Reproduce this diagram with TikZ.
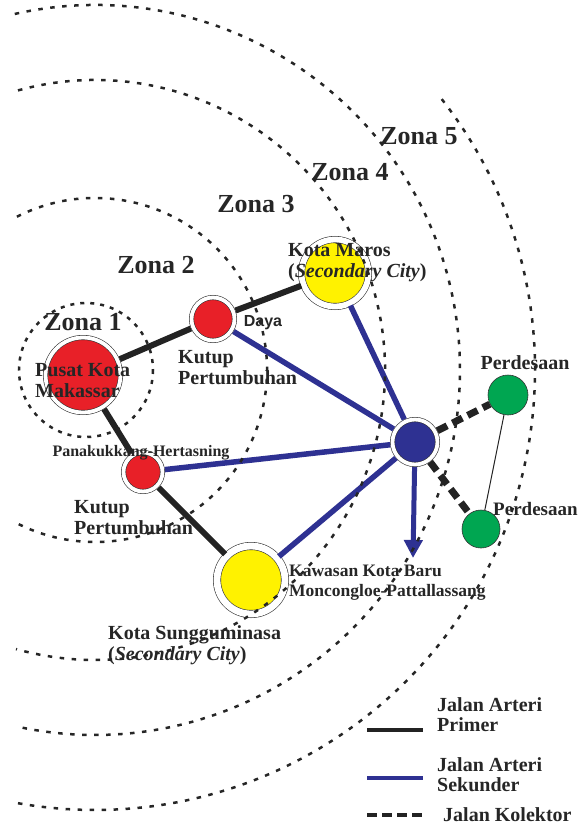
\documentclass[tikz,border=0pt]{standalone}
\usepackage{fontspec}
\setmainfont{Liberation Serif}
\newfontfamily\dayafont{Liberation Sans}
\usetikzlibrary{arrows.meta, positioning}

\definecolor{kotared}{RGB}{232,32,40}
\definecolor{kotayellow}{RGB}{255,242,0}
\definecolor{simpulblue}{RGB}{46,49,146}
\definecolor{desagreen}{RGB}{0,166,81}
\definecolor{jalanblack}{RGB}{35,35,35}

\begin{document}
\begin{tikzpicture}[
    x=1pt, y=-1pt,
    kota/.style n args={3}{circle, draw=black!80, line width=0.6pt, double=white, double distance=#3, fill=#1, minimum size=#2, inner sep=0pt, outer sep=2.5pt},
    desa/.style={circle, draw=black!80, line width=0.6pt, fill=desagreen, minimum size=40pt, inner sep=0pt},
    primer/.style={jalanblack, line width=6pt},
    sekunder/.style={simpulblue, line width=5.5pt},
    kolektor/.style={jalanblack, line width=7pt, dash pattern=on 11pt off 6pt},
    batas/.style={black!85, line width=2.5pt, dash pattern=on 4.5pt off 7.5pt},
    zona/.style={font=\fontsize{26}{28}\selectfont\bfseries, text=black!85, inner sep=0pt},
    teks/.style={font=\fontsize{20}{21}\selectfont\bfseries, text=black!85, inner sep=0pt, align=left}
]
\useasboundingbox (0,0) rectangle (581,827);

% SIMPUL KOTA
\node[kota={kotared}{75pt}{3.8pt}] (makassar) at (83,375) {};
\node[kota={kotared}{43pt}{3.8pt}] (daya) at (213,319) {};
\node[kota={kotared}{39pt}{3.8pt}] (panakukkang) at (143,472) {};
\node[kota={kotayellow}{67pt}{5.8pt}] (maros) at (335,273) {};
\node[kota={kotayellow}{68pt}{6.8pt}] (sungguminasa) at (251,580) {};
\node[kota={simpulblue}{45pt}{3.8pt}] (simpul) at (415,442) {};
\node[desa] (desa1) at (508,395) {};
\node[desa, minimum size=38pt] (desa2) at (481,529) {};
\coordinate (kawasan) at (413,558);

% JALAN ARTERI PRIMER
\draw[primer] (makassar) -- (daya);
\draw[primer] (daya) -- (maros);
\draw[primer] (makassar) -- (panakukkang);
\draw[primer] (panakukkang) -- (sungguminasa);

% JALAN ARTERI SEKUNDER
\draw[sekunder] (daya) -- (simpul);
\draw[sekunder] (maros) -- (simpul);
\draw[sekunder] (panakukkang) -- (simpul);
\draw[sekunder] (sungguminasa) -- (simpul);
\draw[sekunder, line width=5pt, -{Triangle[width=18pt, length=18pt]}] (simpul) -- (kawasan);

% JALAN KOLEKTOR
\draw[kolektor] (simpul) -- (desa1);
\draw[kolektor] (simpul) -- (desa2);
\draw[jalanblack, line width=1pt] (desa1) -- (desa2);

% LABEL
\node[teks, anchor=north west] (lbl-makassar) at (35,363) {Pusat Kota\\Makassar};
\node[font=\dayafont\fontsize{16}{18}\selectfont\bfseries, text=black!85, inner sep=0pt] (lbl-daya) at (263,323) {Daya};
\node[teks, anchor=north west] (lbl-kutup1) at (178,350) {Kutup\\Pertumbuhan};
\node[teks, anchor=north west] (lbl-maros) at (288,243) {Kota Maros\\(\textit{Secondary City})};
\node[teks, font=\fontsize{16}{18}\selectfont\bfseries] (lbl-panakukkang) at (141,453) {Panakukkang-Hertasning};
\node[teks, anchor=north west] (lbl-kutup2) at (74,500) {Kutup\\Pertumbuhan};
\node[teks, anchor=north west] (lbl-sungguminasa) at (108,625) {Kota Sungguminasa\\(\textit{Secondary City})};
\node[teks, anchor=north west, font=\fontsize{17.5}{20}\selectfont\bfseries] (lbl-kawasan) at (289,565) {Kawasan Kota Baru\\Moncongloe-Pattallassang};
\node[teks] (lbl-desa1) at (525,363) {Perdesaan};
\node[teks, anchor=west, font=\fontsize{19}{21}\selectfont\bfseries] (lbl-desa2) at (493,509) {Perdesaan};

% ZONA
\node[zona] (zona1) at (83,322) {Zona 1};
\node[zona] (zona2) at (156,265) {Zona 2};
\node[zona] (zona3) at (256,204) {Zona 3};
\node[zona] (zona4) at (350,172) {Zona 4};
\node[zona] (zona5) at (419,136) {Zona 5};

% BATAS ZONA
\coordinate (pusat) at (95,370);
\draw[batas, dash pattern=on 4pt off 6pt] (86,370) circle[radius=67];
\draw[batas] (pusat) ++(-117:172) arc[start angle=-117, end angle=117, radius=172];
\draw[batas] (pusat) ++(-105.4:290) arc[start angle=-105.4, end angle=105.8, radius=290];
\draw[batas] (pusat) ++(-102.7:365) arc[start angle=-102.7, end angle=102.2, radius=365];
\draw[batas] (pusat) ++(-38:440) arc[start angle=-38, end angle=100.8, radius=440];

% LEGENDA
\coordinate (leg1a) at (367,730); \coordinate (leg1b) at (423,730);
\coordinate (leg2a) at (367,778); \coordinate (leg2b) at (423,778);
\coordinate (leg3a) at (367,815); \coordinate (leg3b) at (423,815);
\draw[primer, line width=4.5pt] (leg1a) -- (leg1b);
\draw[sekunder, line width=4.5pt] (leg2a) -- (leg2b);
\draw[kolektor, line width=4.5pt, dash pattern=on 10pt off 5pt] (leg3a) -- (leg3b);
\node[teks, anchor=north west, font=\fontsize{20}{20}\selectfont\bfseries] (leg-primer) at (437,697) {Jalan Arteri\\Primer};
\node[teks, anchor=north west, font=\fontsize{20}{20}\selectfont\bfseries] (leg-sekunder) at (437,757) {Jalan Arteri\\Sekunder};
\node[teks, anchor=west] (leg-kolektor) at (443,815) {Jalan Kolektor};

\end{tikzpicture}
\end{document}
